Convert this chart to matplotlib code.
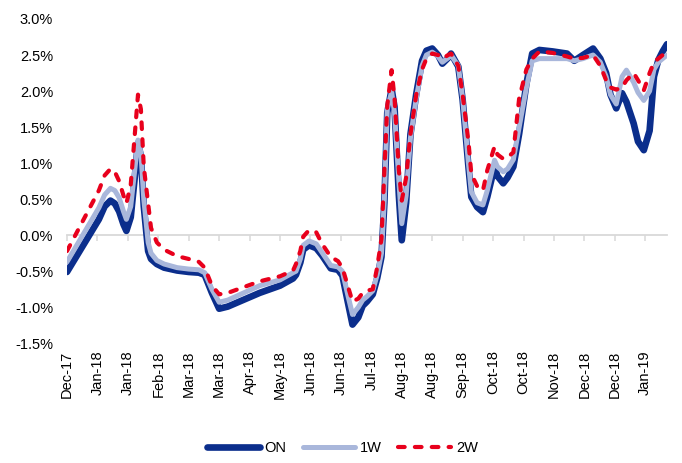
import matplotlib
matplotlib.use("Agg")
import matplotlib.pyplot as plt
import matplotlib.ticker as mticker
import pandas as pd
import numpy as np

plt.rcParams['font.family'] = ['Liberation Sans', 'DejaVu Sans']

# ---- data ----
start_date = "2017-12-15"
tick_step_days = 21
n_ticks = 20
day_offsets = [0, 22, 26, 30, 33, 36, 39, 41, 44, 47, 49, 51, 53, 56, 58, 62, 67, 76, 84, 91,
               95, 100, 105, 111, 133, 147, 156, 158, 161, 163, 167, 172, 176, 182, 187, 190, 194,
               197, 201, 204, 207, 211, 214, 217, 219, 221, 224, 226, 229, 231, 234, 237, 241, 245,
               248, 252, 256, 259, 263, 265, 270, 273, 277, 279, 283, 287, 290, 295, 297, 301, 304,
               308, 312, 317, 321, 326, 335, 345, 350, 356, 363, 368, 372, 375, 379, 383, 386, 391,
               394, 398, 402, 405, 408, 411, 414]
on_rate = [-0.51, 0.22, 0.40, 0.48, 0.44, 0.33, 0.15, 0.06, 0.25, 0.85, 1.28, 1.10, 0.40, -0.22,
           -0.33, -0.40, -0.45, -0.49, -0.51, -0.52, -0.55, -0.80, -1.02, -0.99, -0.80, -0.70,
           -0.60, -0.55, -0.38, -0.20, -0.14, -0.18, -0.28, -0.46, -0.48, -0.56, -0.95, -1.24,
           -1.14, -0.98, -0.92, -0.82, -0.60, -0.30, 0.45, 1.70, 2.03, 1.78, 0.55, -0.07, 0.45,
           1.40, 1.96, 2.42, 2.56, 2.59, 2.50, 2.38, 2.46, 2.52, 2.34, 1.88, 0.95, 0.53, 0.39,
           0.32, 0.53, 0.95, 0.82, 0.72, 0.80, 0.95, 1.41, 2.10, 2.52, 2.57, 2.55, 2.52, 2.42,
           2.50, 2.59, 2.45, 2.25, 1.95, 1.76, 1.97, 1.85, 1.55, 1.30, 1.18, 1.45, 2.20, 2.43,
           2.55, 2.65]
w1_rate = [-0.37, 0.38, 0.56, 0.65, 0.62, 0.52, 0.33, 0.22, 0.40, 0.95, 1.32, 1.15, 0.50, -0.10,
           -0.25, -0.35, -0.40, -0.45, -0.47, -0.48, -0.52, -0.75, -0.93, -0.90, -0.70, -0.62,
           -0.52, -0.50, -0.33, -0.14, -0.08, -0.12, -0.24, -0.42, -0.44, -0.50, -0.85, -1.10,
           -1.00, -0.90, -0.85, -0.77, -0.55, -0.25, 0.50, 1.75, 1.99, 1.70, 0.75, 0.16, 0.55,
           1.35, 1.90, 2.35, 2.50, 2.54, 2.48, 2.40, 2.46, 2.50, 2.35, 1.90, 1.00, 0.60, 0.45,
           0.42, 0.62, 1.04, 0.95, 0.88, 0.92, 1.05, 1.50, 2.05, 2.42, 2.45, 2.45, 2.45, 2.42,
           2.45, 2.50, 2.40, 2.20, 1.95, 1.82, 2.20, 2.29, 2.12, 1.98, 1.87, 2.00, 2.30, 2.40,
           2.45, 2.50]
w2_rate = [-0.22, 0.62, 0.83, 0.92, 0.88, 0.75, 0.55, 0.44, 0.70, 1.45, 1.95, 1.75, 0.95, 0.44,
           0.10, -0.10, -0.20, -0.29, -0.33, -0.37, -0.45, -0.70, -0.82, -0.80, -0.64, -0.57,
           -0.49, -0.40, -0.22, -0.02, 0.07, 0.04, -0.12, -0.30, -0.36, -0.45, -0.72, -0.92,
           -0.88, -0.80, -0.77, -0.75, -0.45, -0.05, 0.90, 1.80, 2.29, 1.90, 0.90, 0.48, 0.80,
           1.40, 1.95, 2.30, 2.45, 2.52, 2.50, 2.45, 2.50, 2.52, 2.35, 1.95, 1.30, 0.85, 0.68,
           0.62, 0.90, 1.23, 1.12, 1.06, 1.08, 1.15, 1.90, 2.30, 2.45, 2.55, 2.53, 2.48, 2.45,
           2.46, 2.50, 2.35, 2.15, 2.05, 2.02, 2.05, 2.15, 2.25, 2.15, 2.01, 2.25, 2.40, 2.45,
           2.50, 2.52]
series_names = ["ON", "1W", "2W"]
y_ticks = [-1.5, -1.0, -0.5, 0.0, 0.5, 1.0, 1.5, 2.0, 2.5, 3.0]

# ---- figure ----
fig = plt.figure(figsize=(6.82, 4.63), dpi=100)
ax = fig.add_axes([0.0982, 0.2585, 0.8798, 0.7005])

start = pd.Timestamp(start_date)
x = np.array(day_offsets, dtype=float)

ax.plot(x, on_rate, color="#0B2E8C", lw=4.8, solid_capstyle="round",
        solid_joinstyle="round", label=series_names[0], zorder=3)
ax.plot(x, w1_rate, color="#A9B7DB", lw=3.6, solid_capstyle="round",
        solid_joinstyle="round", label=series_names[1], zorder=4)
ax.plot(x, w2_rate, color="#E8001C", lw=3.0, linestyle=(0, (1.6, 2.45)),
        dash_capstyle="round", dash_joinstyle="round", label=series_names[2], zorder=5)

for s in ["top", "right", "left"]:
    ax.spines[s].set_visible(False)
ax.spines["bottom"].set_position(("data", 0))
ax.spines["bottom"].set_color("#D9D9D9")
ax.spines["bottom"].set_linewidth(1.3)
ax.spines["bottom"].set_zorder(1)

ax.set_ylim(y_ticks[0], y_ticks[-1])
ax.set_yticks(y_ticks)
ax.yaxis.set_major_formatter(mticker.FuncFormatter(lambda v, p: f"{v:.1f}%"))
ax.set_xlim(0, max(day_offsets))

tick_pos = [i * tick_step_days for i in range(n_ticks)]
tick_lab = [(start + pd.Timedelta(days=t)).strftime("%b-%y") for t in tick_pos]
ax.set_xticks(tick_pos)
ax.set_xticklabels(tick_lab)

ax.tick_params(axis="x", direction="out", length=4, width=1.1, color="#D9D9D9",
               pad=79, labelsize=10.5, labelcolor="#000000", labelrotation=90)
ax.tick_params(axis="y", length=0, pad=10, labelsize=10.5, labelcolor="#000000")
for lab in ax.get_xticklabels():
    lab.set_va("top")
    lab.set_ha("center")

fig.legend(loc="center", bbox_to_anchor=(0.502, 0.032), ncol=3, frameon=False,
           fontsize=10.5, handlelength=3.6, handletextpad=0.35, columnspacing=1.1)

fig.savefig("out.png", dpi=100)
